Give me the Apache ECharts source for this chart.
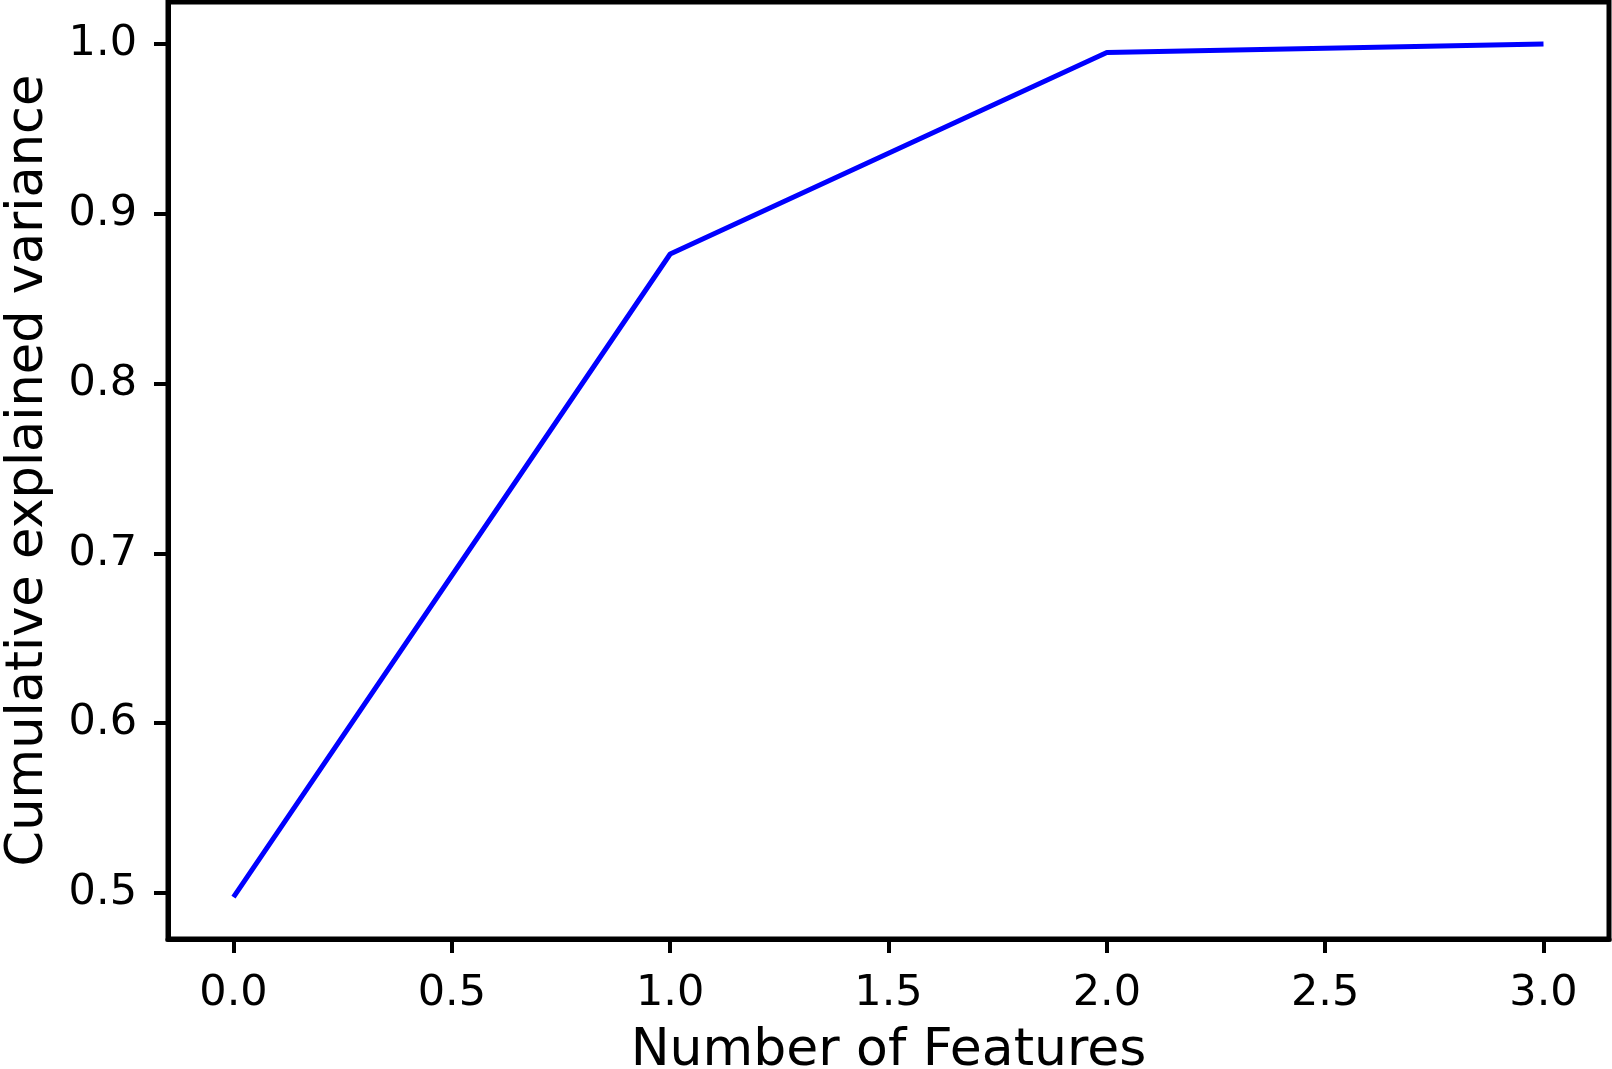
<!DOCTYPE html>
<html>
<head>
<meta charset="utf-8">
<script src="https://cdn.jsdelivr.net/npm/echarts@6/dist/echarts.min.js"></script>
<style>
html,body{margin:0;padding:0;background:#fff;}
#chart{width:1612px;height:1069px;}
</style>
</head>
<body>
<div id="chart"></div>
<script>
const featureCounts = [0, 1, 2, 3];
const cumulativeVariance = [0.4976, 0.8763, 0.9950, 1.0];
const xTicks = [0, 0.5, 1.0, 1.5, 2.0, 2.5, 3.0];
const yTicks = [0.5, 0.6, 0.7, 0.8, 0.9, 1.0];
const xTitle = 'Number of Features';
const yTitle = 'Cumulative explained variance';

const chart = echarts.init(document.getElementById('chart'), null, {renderer: 'canvas'});
const FONT = 'DejaVu Sans';
const seriesData = featureCounts.map((x, i) => [x, cumulativeVariance[i]]);

chart.setOption({
  backgroundColor: '#ffffff',
  animation: false,
  grid: {
    left: 168, right: 3, top: 2, bottom: 130,
    containLabel: false,
    outerBoundsMode: 'none',
    show: true, borderColor: '#000', borderWidth: 5, backgroundColor: 'transparent'
  },
  xAxis: {
    type: 'value',
    min: -0.15, max: 3.15,
    name: xTitle,
    nameLocation: 'middle',
    nameGap: 86,
    nameTextStyle: {fontFamily: FONT, fontSize: 52, color: '#000'},
    axisLine: {show: true, onZero: false, lineStyle: {color: '#000', width: 5}},
    axisTick: {show: true, customValues: xTicks, length: 14, lineStyle: {color: '#000', width: 4}},
    axisLabel: {
      customValues: xTicks, margin: 33,
      fontFamily: FONT, fontSize: 43, color: '#000',
      formatter: v => Number(v).toFixed(1)
    },
    splitLine: {show: false}
  },
  yAxis: {
    type: 'value',
    min: 0.4729, max: 1.0247,
    name: yTitle,
    nameLocation: 'middle',
    nameGap: 114,
    nameTextStyle: {fontFamily: FONT, fontSize: 51, color: '#000'},
    axisLine: {show: true, onZero: false, lineStyle: {color: '#000', width: 5}},
    axisTick: {show: true, customValues: yTicks, length: 14, lineStyle: {color: '#000', width: 4}},
    axisLabel: {
      customValues: yTicks, margin: 31,
      fontFamily: FONT, fontSize: 43, color: '#000',
      formatter: v => Number(v).toFixed(1)
    },
    splitLine: {show: false}
  },
  series: [{
    type: 'line',
    data: seriesData,
    showSymbol: false,
    symbol: 'none',
    lineStyle: {color: '#0000ff', width: 5},
    itemStyle: {color: '#0000ff'}
  }]
});
</script>
</body>
</html>
